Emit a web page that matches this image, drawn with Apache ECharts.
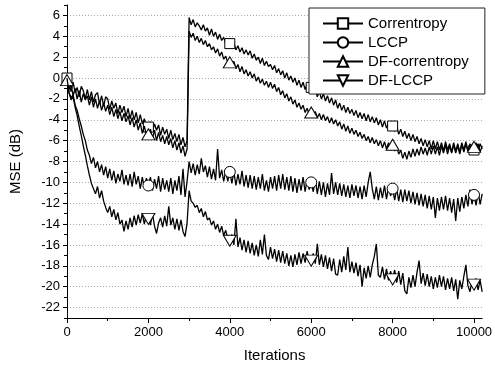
<!DOCTYPE html>
<html><head><meta charset="utf-8">
<script src="https://cdn.jsdelivr.net/npm/echarts@6/dist/echarts.min.js"></script>
<style>html,body{margin:0;padding:0;background:#fff}#c{width:495px;height:373px}</style>
</head><body><div id="c"></div>
<script>
// ---- data ----
const ITER_STEP = 50;          // sampling step of the curves (iterations)
const MARKER_EVERY = 2000;     // marker spacing (iterations)
const seriesNames = ['Correntropy', 'LCCP', 'DF-correntropy', 'DF-LCCP'];
const xTickLabels = [0, 2000, 4000, 6000, 8000, 10000];
const xMinorTicks = [1000, 3000, 5000, 7000, 9000];
const yTickLabels = [-22, -20, -18, -16, -14, -12, -10, -8, -6, -4, -2, 0, 2, 4, 6];
const yMinorTicks = [-23, -21, -19, -17, -15, -13, -11, -9, -7, -5, -3, -1, 1, 3, 5, 7];

const correntropy = [
  0.0, -0.5, -1.3, -0.4, -1.4, -0.9, -1.8, -0.8, -1.2, -2.0,
  -1.1, -2.1, -1.3, -2.3, -1.6, -1.4, -2.5, -1.7, -2.7, -1.8,
  -2.0, -3.0, -2.2, -2.9, -2.4, -3.4, -2.6, -3.3, -2.7, -3.7,
  -2.9, -3.9, -3.1, -4.0, -3.3, -4.3, -3.5, -4.4, -3.9, -4.7,
  -4.7, -4.2, -5.1, -4.4, -5.0, -4.5, -5.5, -4.7, -5.4, -4.9,
  -5.8, -5.0, -5.9, -5.3, -6.1, -5.4, -6.4, -5.7, -6.6, -6.0,
  5.8, 5.1, 5.6, 4.9, 5.3, 5.0, 4.6, 5.1, 4.5, 4.8,
  4.1, 4.7, 4.0, 4.4, 3.7, 4.2, 3.6, 3.9, 3.3, 3.7,
  3.3, 2.9, 3.4, 2.7, 3.1, 2.5, 2.9, 2.3, 2.7, 2.2,
  2.6, 1.9, 2.3, 1.7, 2.0, 1.4, 1.9, 1.2, 1.6, 1.1,
  1.3, 0.8, 1.2, 0.5, 0.9, 0.3, 0.7, 0.0, 0.5, -0.2,
  0.2, -0.4, 0.0, -0.7, -0.2, -0.9, -0.4, -1.1, -0.6, -1.3,
  -0.9, -1.5, -1.1, -1.8, -1.3, -2.0, -1.5, -2.2, -1.7, -2.4,
  -1.9, -2.6, -2.1, -2.9, -2.4, -3.1, -2.6, -3.3, -2.8, -3.4,
  -3.0, -3.6, -3.1, -3.8, -3.3, -3.9, -3.4, -4.1, -3.5, -4.2,
  -3.7, -4.3, -3.8, -4.5, -4.0, -4.7, -4.1, -4.8, -4.3, -4.9,
  -4.6, -5.1, -4.6, -5.4, -4.9, -5.6, -5.1, -5.8, -5.3, -6.0,
  -5.4, -6.1, -5.6, -6.3, -5.8, -6.5, -5.9, -6.6, -6.0, -6.8,
  -6.0, -6.8, -6.1, -6.9, -6.2, -7.0, -6.1, -6.9, -6.3, -7.1,
  -6.2, -7.0, -6.3, -7.1, -6.2, -6.9, -6.1, -7.0, -6.3, -7.1,
  -6.9, -6.2, -7.0, -6.3, -6.8
];
const lccp = [
  0.0, -1.4, -1.9, -1.6, -2.6, -3.1, -3.9, -4.6, -5.4, -6.0,
  -6.9, -7.4, -8.2, -7.6, -8.6, -8.0, -9.0, -8.3, -9.3, -8.5,
  -9.6, -8.7, -9.8, -8.9, -10.1, -9.2, -9.9, -8.8, -10.2, -9.3,
  -10.3, -9.2, -10.4, -9.0, -10.2, -9.4, -10.6, -9.5, -10.5, -9.6,
  -10.3, -9.5, -10.8, -9.7, -10.6, -9.4, -10.9, -9.6, -10.7, -9.8,
  -10.9, -9.6, -11.1, -9.8, -10.8, -9.4, -11.2, -8.7, -11.4, -9.9,
  -8.0, -9.1, -8.2, -9.3, -8.3, -9.2, -7.7, -9.0, -8.4, -9.5,
  -8.5, -9.7, -8.7, -9.8, -6.8, -9.6, -8.8, -9.9, -8.9, -9.9,
  -9.0, -10.1, -9.0, -10.3, -9.2, -10.2, -8.9, -10.4, -9.3, -10.5,
  -9.3, -10.6, -9.4, -10.7, -9.5, -10.6, -9.2, -10.8, -9.8, -10.9,
  -9.5, -10.6, -9.4, -10.8, -9.3, -10.6, -9.2, -10.7, -9.5, -10.8,
  -9.4, -10.9, -9.6, -11.0, -9.7, -10.8, -9.5, -10.9, -9.7, -10.7,
  -10.0, -10.9, -9.7, -11.1, -9.9, -11.2, -10.0, -11.4, -10.1, -11.2,
  -9.1, -11.1, -10.0, -11.2, -10.1, -11.3, -10.2, -11.4, -10.3, -11.5,
  -10.2, -11.3, -10.3, -11.5, -10.4, -11.6, -10.3, -11.4, -10.0, -9.0,
  -10.6, -11.6, -10.4, -11.7, -10.5, -11.5, -10.3, -11.6, -10.4, -11.3,
  -10.6, -11.7, -10.6, -11.8, -10.7, -11.9, -10.7, -11.8, -10.8, -12.0,
  -10.9, -12.1, -11.0, -12.2, -11.1, -12.3, -11.2, -12.5, -11.3, -12.6,
  -11.4, -13.4, -11.5, -12.7, -11.4, -12.6, -11.3, -12.7, -11.5, -12.9,
  -11.6, -13.7, -11.5, -12.8, -11.4, -12.5, -11.2, -12.3, -10.7, -12.1,
  -11.2, -12.2, -10.9, -12.1, -11.1
];
const dfCorrentropy = [
  -0.2, -1.1, -0.6, -1.7, -1.0, -2.0, -1.2, -2.3, -1.5, -2.1,
  -1.7, -2.6, -1.8, -2.8, -2.0, -2.9, -2.2, -3.1, -2.4, -3.2,
  -2.6, -3.5, -2.8, -3.7, -3.0, -3.9, -3.2, -4.1, -3.4, -4.2,
  -3.6, -4.5, -3.8, -4.7, -4.0, -5.0, -4.3, -5.3, -4.6, -5.5,
  -5.4, -4.9, -5.8, -5.0, -6.0, -5.2, -6.1, -5.5, -6.3, -5.6,
  -6.4, -5.8, -6.7, -6.0, -6.9, -6.2, -7.2, -6.5, -7.5, -6.8,
  4.5, 3.9, 4.3, 3.6, 4.0, 3.4, 3.8, 3.2, 3.6, 3.0,
  3.3, 2.7, 3.0, 2.4, 2.8, 2.1, 2.5, 1.8, 2.1, 1.5,
  1.5, 1.2, 1.6, 0.9, 1.3, 0.6, 1.1, 0.4, 0.8, 0.2,
  0.6, 0.0, 0.4, -0.3, 0.1, -0.5, -0.1, -0.7, -0.3, -0.9,
  -0.4, -1.0, -0.6, -1.3, -0.9, -1.6, -1.2, -1.9, -1.5, -2.2,
  -1.8, -2.5, -2.1, -2.8, -2.4, -3.0, -2.6, -3.3, -2.9, -3.5,
  -3.3, -3.6, -3.2, -3.8, -3.4, -4.0, -3.5, -4.1, -3.7, -4.3,
  -3.8, -4.4, -4.0, -4.6, -4.2, -4.9, -4.4, -5.1, -4.6, -5.3,
  -4.8, -5.4, -5.0, -5.6, -5.2, -5.8, -5.4, -6.0, -5.6, -6.2,
  -5.7, -6.3, -5.9, -6.5, -6.0, -6.7, -6.1, -6.8, -6.2, -6.9,
  -6.4, -7.0, -6.6, -7.3, -6.9, -7.7, -7.1, -7.8, -7.0, -7.6,
  -6.8, -7.5, -6.8, -7.4, -6.6, -7.3, -6.7, -7.4, -6.6, -7.3,
  -6.5, -7.3, -6.6, -7.4, -6.5, -7.2, -6.4, -7.3, -6.5, -7.2,
  -6.4, -7.2, -6.5, -7.3, -6.4, -7.1, -6.3, -7.0, -6.4, -7.1,
  -6.6, -7.0, -6.3, -7.1, -6.5
];
const dfLccp = [
  0.0, -1.4, -2.1, -1.8, -2.8, -3.6, -4.6, -5.5, -6.5, -7.4,
  -8.4, -9.3, -10.1, -10.6, -11.1, -10.4, -11.5, -10.8, -11.8, -12.4,
  -12.9, -12.3, -13.3, -12.6, -13.6, -12.9, -14.0, -13.6, -14.7, -13.7,
  -14.5, -13.4, -14.3, -13.2, -14.1, -13.1, -13.9, -13.0, -14.0, -13.1,
  -13.5, -14.1, -13.0, -14.2, -14.9, -13.9, -13.4, -14.3, -13.2, -14.2,
  -12.3, -14.1, -13.4, -14.5, -13.5, -14.6, -13.6, -14.7, -15.2, -13.9,
  -10.8, -11.8, -12.0, -12.4, -12.2, -12.9, -12.5, -13.3, -12.8, -13.6,
  -13.4, -14.1, -13.7, -14.5, -14.0, -14.8, -14.2, -15.1, -14.6, -15.4,
  -15.6, -15.0, -16.0, -13.5, -16.2, -15.3, -16.5, -15.5, -16.7, -15.6,
  -16.8, -15.8, -17.0, -16.0, -17.1, -15.5, -16.9, -15.0, -17.0, -17.4,
  -16.2, -17.3, -16.4, -17.6, -16.5, -17.7, -16.6, -17.8, -16.8, -18.0,
  -17.0, -18.1, -16.9, -17.9, -16.7, -17.8, -16.8, -17.7, -16.6, -17.6,
  -17.5, -16.8, -17.8, -15.9, -17.9, -16.9, -18.1, -17.0, -18.3, -17.2,
  -18.5, -17.3, -18.8, -18.9, -17.4, -18.6, -17.1, -18.4, -16.2, -18.6,
  -17.6, -18.7, -17.7, -19.0, -17.9, -20.0, -18.2, -19.2, -18.0, -19.1,
  -17.9, -17.1, -15.9, -18.9, -19.1, -18.1, -19.3, -18.3, -19.4, -18.5,
  -19.3, -18.4, -19.6, -18.5, -19.8, -18.7, -20.4, -20.7, -19.1, -20.1,
  -18.9, -20.0, -18.6, -17.5, -19.7, -18.7, -19.9, -18.8, -20.0, -19.0,
  -20.2, -19.1, -20.1, -18.9, -20.0, -19.0, -20.3, -19.2, -20.2, -19.1,
  -20.4, -19.3, -21.2, -19.4, -20.2, -19.0, -17.9, -19.9, -20.5, -19.4,
  -19.8, -19.2, -20.3, -19.4, -20.5
];

// ---- chart ----
const FONT = "'Liberation Sans', Arial, sans-serif";
const markerStyles = [
  { symbol: 'rect', size: 10, rotate: 0, firstMarker: 0 },
  { symbol: 'circle', size: 11, rotate: 0, firstMarker: 2000 },
  { symbol: 'triangle', size: [13, 11], rotate: 0, firstMarker: 0 },
  { symbol: 'triangle', size: [13, 11], rotate: 180, firstMarker: 2000 }
];
const allValues = [correntropy, lccp, dfCorrentropy, dfLccp];

function buildData(vals, firstMarker) {
  return vals.map((v, i) => {
    const x = i * ITER_STEP;
    return (x % MARKER_EVERY === 0 && x >= firstMarker) ? [x, v] : { value: [x, v], symbol: 'none' };
  });
}

const chart = echarts.init(document.getElementById('c'), null, { renderer: 'canvas' });
const xMax = (correntropy.length - 1) * ITER_STEP;
const plain = v => String(v);

chart.setOption({
  animation: false,
  backgroundColor: '#fff',
  textStyle: { fontFamily: FONT, color: '#000' },
  grid: { left: 62, right: 8, top: 5, bottom: 55 },
  legend: {
    left: 309, top: 8, orient: 'vertical',
    padding: [8, 16, 6, 13],
    itemWidth: 40, itemHeight: 13, itemGap: 4,
    borderColor: '#222', borderWidth: 1, backgroundColor: '#fff',
    textStyle: { fontFamily: FONT, fontSize: 15, color: '#000' },
    data: seriesNames
  },
  xAxis: [{
    type: 'value', min: 0, max: xMax, position: 'bottom',
    name: 'Iterations', nameLocation: 'middle', nameGap: 30,
    nameTextStyle: { fontFamily: FONT, fontSize: 15, color: '#000' },
    axisLine: { show: true, onZero: false, lineStyle: { color: '#000', width: 1 } },
    axisTick: { show: true, inside: false, length: 5, customValues: xTickLabels, lineStyle: { color: '#000' } },
    axisLabel: { customValues: xTickLabels, formatter: plain, margin: 8, fontFamily: FONT, fontSize: 13, color: '#000' },
    splitLine: { show: false }
  }, {
    type: 'value', min: 0, max: xMax, position: 'bottom',
    axisLine: { show: false, onZero: false },
    axisTick: { show: true, inside: false, length: 3, customValues: xMinorTicks, lineStyle: { color: '#000' } },
    axisLabel: { show: false },
    splitLine: { show: false }
  }],
  yAxis: [{
    type: 'value', min: -23, max: 7, position: 'left',
    name: 'MSE (dB)', nameLocation: 'middle', nameGap: 44, nameRotate: 90,
    nameTextStyle: { fontFamily: FONT, fontSize: 15, color: '#000' },
    axisLine: { show: true, onZero: false, lineStyle: { color: '#000', width: 1 } },
    axisTick: { show: true, inside: false, length: 4, customValues: yTickLabels, lineStyle: { color: '#000' } },
    axisLabel: { customValues: yTickLabels, formatter: plain, margin: 7, fontFamily: FONT, fontSize: 13, color: '#000' },
    splitLine: { show: true, lineStyle: { color: '#aaa', width: 1, type: [1, 2] } }
  }, {
    type: 'value', min: -23, max: 7, position: 'left',
    axisLine: { show: false, onZero: false },
    axisTick: { show: true, inside: false, length: 3, customValues: yMinorTicks, lineStyle: { color: '#000' } },
    axisLabel: { show: false },
    splitLine: { show: false }
  }],
  series: allValues.map((vals, k) => ({
    name: seriesNames[k],
    type: 'line',
    xAxisIndex: 0, yAxisIndex: 0,
    data: buildData(vals, markerStyles[k].firstMarker),
    symbol: markerStyles[k].symbol,
    symbolSize: markerStyles[k].size,
    symbolRotate: markerStyles[k].rotate,
    showSymbol: true, showAllSymbol: true,
    lineStyle: { color: '#000', width: 1.3 },
    itemStyle: { color: '#fff', borderColor: '#000', borderWidth: 1 },
    emphasis: { disabled: true },
    z: 2 + k
  }))
});
</script></body></html>
